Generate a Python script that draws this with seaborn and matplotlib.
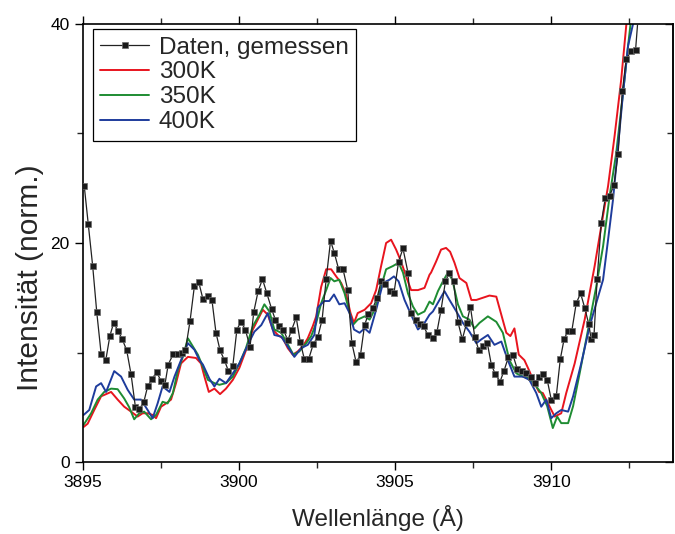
import numpy as np
import pandas as pd
import matplotlib
matplotlib.use("Agg")
import matplotlib.pyplot as plt
import seaborn as sns
from matplotlib.ticker import MultipleLocator, NullFormatter

# ---- data (offsets from 3895 Å) ----
meas_dx = [0.04, 0.17, 0.31, 0.44, 0.58, 0.73, 0.86, 0.98, 1.12, 1.26, 1.40, 1.54, 1.68, 1.80,
           1.95, 2.07, 2.21, 2.36, 2.50, 2.62, 2.73, 2.89, 3.04, 3.16, 3.28, 3.43, 3.57, 3.71,
           3.84, 4.00, 4.13, 4.26, 4.39, 4.53, 4.66, 4.80, 4.93, 5.06, 5.20, 5.35, 5.47, 5.61,
           5.75, 5.89, 6.04, 6.16, 6.29, 6.42, 6.56, 6.69, 6.83, 6.96, 7.09, 7.23, 7.38, 7.52,
           7.66, 7.79, 7.93, 8.05, 8.19, 8.33, 8.48, 8.61, 8.75, 8.89, 9.02, 9.14, 9.29, 9.42,
           9.55, 9.68, 9.82, 9.96, 10.11, 10.25, 10.41, 10.51, 10.68, 10.80, 10.92, 11.04, 11.21,
           11.34, 11.47, 11.61, 11.74, 11.87, 12.01, 12.15, 12.29, 12.41, 12.55, 12.68, 12.82,
           12.95, 13.08, 13.21, 13.36, 13.49, 13.63, 13.77, 13.91, 14.06, 14.20, 14.34, 14.48,
           14.61, 14.73, 14.87, 15.00, 15.16, 15.29, 15.41, 15.54, 15.66, 15.80, 15.94, 16.07,
           16.20, 16.28, 16.37, 16.47, 16.60, 16.73, 16.87, 17.01, 17.14, 17.28, 17.40, 17.56,
           17.70, 17.82]
meas_y = [25.2, 21.7, 17.9, 13.7, 9.9, 9.3, 11.5, 12.7, 12.0, 11.2, 10.2, 8.0, 5.0, 4.8,
          5.5, 6.9, 7.6, 8.2, 7.4, 7.0, 8.9, 9.85, 9.85, 10.0, 10.2, 12.9, 16.1, 16.4,
          14.9, 15.2, 14.8, 11.8, 10.2, 9.3, 8.3, 8.8, 12.1, 12.8, 12.1, 10.5, 13.7, 15.6,
          16.7, 15.4, 14.0, 13.0, 12.4, 12.1, 11.1, 12.1, 13.2, 10.95, 9.4, 9.4, 10.8, 11.4,
          13.0, 16.7, 20.2, 19.1, 17.6, 17.6, 15.7, 10.9, 9.1, 9.8, 12.5, 13.5, 14.1, 15.0,
          16.5, 16.3, 15.6, 15.4, 18.3, 19.5, 17.3, 13.6, 13.0, 12.6, 12.4, 11.6, 11.3,
          11.9, 13.9, 16.5, 17.3, 16.5, 12.8, 11.2, 12.7, 14.2, 11.4, 10.2, 10.6,
          10.9, 8.9, 8.0, 7.35, 8.35, 9.6, 9.8, 8.5, 8.3, 8.1, 7.8, 7.25,
          7.8, 8.05, 7.5, 5.7, 6.0, 9.4, 11.2, 12.0, 12.0, 14.5, 15.4, 14.1,
          12.6, 11.2, 11.6, 16.7, 21.8, 24.1, 24.3, 25.3, 28.1, 33.9, 36.8, 37.5,
          37.6, 42.0]

red_dx = [0.02, 0.15, 0.36, 0.58, 0.90, 1.11, 1.32, 1.54, 1.75, 1.91, 2.07, 2.23, 2.34, 2.50,
          2.66, 2.82, 2.98, 3.14, 3.36, 3.62, 3.78, 3.89, 4.03, 4.21, 4.39, 4.58, 4.80, 5.01,
          5.22, 5.44, 5.60, 5.76, 5.92, 6.08, 6.24, 6.40, 6.56, 6.72, 6.88, 7.04, 7.20, 7.36,
          7.47, 7.63, 7.79, 7.95, 8.11, 8.27, 8.43, 8.57, 8.68, 8.80, 9.02, 9.23, 9.39, 9.55,
          9.71, 9.87, 10.03, 10.19, 10.35, 10.51, 10.73, 10.94, 11.10, 11.15, 11.31, 11.47,
          11.63, 11.76, 11.90, 12.06, 12.28, 12.44, 12.60, 12.81, 13.02, 13.24, 13.40, 13.56,
          13.69, 13.82, 13.96, 14.14, 14.30, 14.46, 14.61, 14.73, 14.87, 15.11, 15.32, 15.48,
          15.75, 16.07, 16.39, 16.60, 16.82, 17.03, 17.24, 17.40, 17.50]
red_y = [3.2, 3.5, 4.75, 6.0, 6.4, 5.7, 5.05, 4.6, 4.15, 4.45, 4.45, 4.3, 4.0, 5.05,
         5.35, 5.7, 7.2, 9.0, 9.6, 9.5, 9.0, 7.8, 6.4, 6.7, 6.2, 6.7, 7.5, 8.6,
         10.2, 12.1, 13.0, 13.9, 13.45, 12.1, 11.6, 11.3, 10.4, 9.8, 10.1, 10.55, 11.3, 12.4,
         13.3, 16.0, 17.6, 17.6, 16.95, 16.35, 15.3, 13.6, 12.7, 13.6, 13.9, 14.5, 15.7, 17.9,
         20.0, 20.3, 19.4, 18.3, 16.95, 15.7, 15.7, 15.9, 17.1, 17.3, 18.3, 19.4,
         19.55, 19.2, 18.2, 16.8, 16.35, 14.8, 14.8, 15.0, 15.2, 15.1, 13.45, 11.8,
         11.5, 12.2, 9.8, 9.3, 8.3, 7.2, 6.4, 6.3, 5.5, 4.15, 4.45, 6.3,
         9.0, 13.0, 17.9, 21.5, 25.2, 29.8, 34.9, 39.8, 42.0]

green_dx = [0.02, 0.26, 0.47, 0.68, 0.90, 1.11, 1.32, 1.48, 1.64, 1.80, 1.96, 2.18, 2.34, 2.55,
            2.71, 2.88, 3.04, 3.20, 3.36, 3.52, 3.68, 3.84, 4.00, 4.21, 4.37, 4.58, 4.80, 5.01,
            5.22, 5.44, 5.65, 5.81, 5.97, 6.13, 6.35, 6.51, 6.74, 6.93, 7.15, 7.31, 7.47, 7.63,
            7.79, 7.93, 8.05, 8.21, 8.38, 8.50, 8.64, 8.80, 9.02, 9.18, 9.34, 9.55, 9.71, 9.93,
            10.11, 10.25, 10.41, 10.57, 10.73, 10.94, 11.10, 11.21, 11.37, 11.53, 11.69, 11.83,
            12.01, 12.17, 12.38, 12.54, 12.70, 12.97, 13.24, 13.45, 13.66, 13.88, 14.09, 14.30,
            14.52, 14.68, 14.87, 15.05, 15.19, 15.32, 15.54, 15.70, 15.91, 16.18, 16.44, 16.66,
            16.87, 17.08, 17.30, 17.46, 17.54, 17.60]
green_y = [3.4, 4.45, 5.7, 6.4, 6.7, 6.65, 5.8, 5.0, 3.9, 4.45, 4.6, 3.9, 4.3, 5.5,
           5.35, 6.3, 8.4, 9.6, 11.3, 10.55, 9.8, 8.7, 7.5, 7.2, 7.05, 7.2, 7.8, 9.0,
           10.4, 12.4, 13.45, 14.4, 13.75, 12.1, 11.8, 11.0, 9.8, 10.1, 10.85, 11.5, 12.7, 14.5,
           15.7, 16.8, 16.5, 16.65, 15.4, 14.1, 12.5, 13.0, 13.3, 13.0, 13.9, 16.0, 17.6, 17.9,
           18.2, 17.3, 15.4, 14.2, 13.45, 13.75, 14.65, 14.4, 15.6, 16.5, 17.3, 16.65,
           14.4, 13.3, 13.0, 12.2, 12.7, 13.3, 12.8, 11.8, 9.3, 8.1, 7.8, 7.65,
           6.9, 6.3, 5.1, 3.1, 4.15, 3.55, 3.55, 5.1, 8.1, 12.1, 16.0, 19.7,
           24.3, 28.2, 33.7, 38.0, 40.0, 42.0]

blue_dx = [0.02, 0.20, 0.42, 0.58, 0.74, 1.00, 1.22, 1.43, 1.64, 1.86, 2.07, 2.23, 2.39, 2.55,
           2.77, 2.93, 3.14, 3.36, 3.57, 3.73, 3.84, 4.05, 4.21, 4.37, 4.58, 4.80, 5.01, 5.28,
           5.49, 5.71, 5.92, 6.13, 6.35, 6.56, 6.77, 6.99, 7.20, 7.41, 7.52, 7.73, 7.89, 8.04,
           8.21, 8.38, 8.54, 8.68, 8.86, 9.02, 9.18, 9.39, 9.61, 9.82, 9.96, 10.11, 10.30,
           10.51, 10.73, 10.94, 11.10, 11.21, 11.42, 11.58, 11.74, 11.96, 12.17, 12.38, 12.60,
           12.76, 12.97, 13.18, 13.40, 13.61, 13.82, 14.09, 14.30, 14.52, 14.68, 14.84, 15.0,
           15.16, 15.32, 15.54, 15.70, 15.96, 16.23, 16.44, 16.66, 16.82, 16.98, 17.14, 17.30,
           17.46, 17.62, 17.70]
blue_y = [4.3, 4.75, 6.9, 7.2, 6.4, 8.3, 7.8, 6.6, 5.7, 5.7, 4.75, 4.0, 5.35, 6.9,
          6.4, 7.8, 9.3, 10.85, 10.25, 9.3, 8.9, 7.6, 6.9, 7.6, 7.2, 8.1, 9.0, 10.7,
          11.9, 12.5, 13.6, 11.6, 11.45, 10.55, 9.6, 10.4, 10.7, 11.6, 14.1, 14.7, 14.7, 15.3,
          14.4, 14.5, 13.6, 12.1, 11.8, 12.2, 11.8, 13.9, 16.35, 16.65, 16.95, 16.5, 14.8,
          13.45, 12.1, 12.7, 13.45, 13.75, 14.8, 15.6, 14.8, 13.75, 12.7, 11.9, 10.85,
          11.2, 11.6, 10.7, 11.0, 9.3, 7.8, 7.8, 7.5, 6.3, 5.05, 5.7, 4.0,
          4.45, 4.75, 4.6, 6.0, 9.0, 12.4, 14.5, 16.65, 20.3, 24.0, 28.85, 33.7,
          38.0, 40.0, 42.0]

base = 3895.0
labels = ["Daten, gemessen", "300K", "350K", "400K"]
colors = ["#1a1a1a", "#e8141e", "#1e8c32", "#1e3c9c"]

sns.set_theme(style="ticks")
plt.rcParams["font.family"] = ["Liberation Sans", "DejaVu Sans"]

fig = plt.figure(figsize=(6.75, 5.34), dpi=100)
ax = fig.add_axes([83 / 675, 1 - 462 / 534, 590 / 675, 438 / 534])

series = [(red_dx, red_y), (green_dx, green_y), (blue_dx, blue_y)]
for (dx, yy), lab, col in zip(series, labels[1:], colors[1:]):
    df = pd.DataFrame({"x": np.asarray(dx) + base, "y": yy})
    sns.lineplot(data=df, x="x", y="y", ax=ax, color=col, lw=1.4,
                 label=lab, sort=False, estimator=None)

dfm = pd.DataFrame({"x": np.asarray(meas_dx) + base, "y": meas_y})
sns.lineplot(data=dfm, x="x", y="y", ax=ax, color="#222222", lw=0.9,
             marker="s", markersize=4.8, markerfacecolor="#1a1a1a",
             markeredgecolor="#6a6a6a", markeredgewidth=0.5,
             label=labels[0], sort=False, estimator=None, zorder=5)

ax.set_xlim(3895, 3913.9)
ax.set_ylim(0, 40)
ax.xaxis.set_major_locator(MultipleLocator(5))
ax.xaxis.set_minor_locator(MultipleLocator(2.5))
ax.yaxis.set_major_locator(MultipleLocator(20))
ax.yaxis.set_minor_locator(MultipleLocator(10))
ax.tick_params(axis="both", which="major", labelsize=12.5, length=6, width=1.0,
               direction="out", colors="black")
ax.tick_params(axis="both", which="minor", length=4, width=1.0, direction="out")
ax.tick_params(axis="x", which="both", top=True, labeltop=False)
ax.tick_params(axis="y", which="both", right=False)

# right-hand ticks point inward
sec = ax.secondary_yaxis("right")
sec.yaxis.set_major_locator(MultipleLocator(20))
sec.yaxis.set_minor_locator(MultipleLocator(10))
sec.yaxis.set_major_formatter(NullFormatter())
sec.tick_params(axis="y", which="major", direction="in", length=6, width=1.0)
sec.tick_params(axis="y", which="minor", direction="in", length=4, width=1.0)
sec.spines["right"].set_linewidth(1.2)

for sp in ax.spines.values():
    sp.set_visible(True)
    sp.set_linewidth(1.2)
    sp.set_color("black")

ax.set_xlabel("Wellenlänge (Å)", fontsize=17.5)
ax.xaxis.set_label_coords(0.5, -0.098)
ax.set_ylabel("Intensität (norm.)", fontsize=21.5)
ax.yaxis.set_label_coords(-0.066, 0.42)

handles, labs = ax.get_legend_handles_labels()
order = [labs.index(l) for l in labels]
leg = ax.legend([handles[i] for i in order], [labs[i] for i in order],
                loc="upper left", bbox_to_anchor=(0.017, 0.988), fontsize=17.5,
                frameon=True, fancybox=False, edgecolor="black", framealpha=1,
                handlelength=2.0, handletextpad=0.4, labelspacing=0.12,
                borderpad=0.3, borderaxespad=0, numpoints=1)
leg.get_frame().set_linewidth(0.9)

fig.savefig("out.png", dpi=100)
